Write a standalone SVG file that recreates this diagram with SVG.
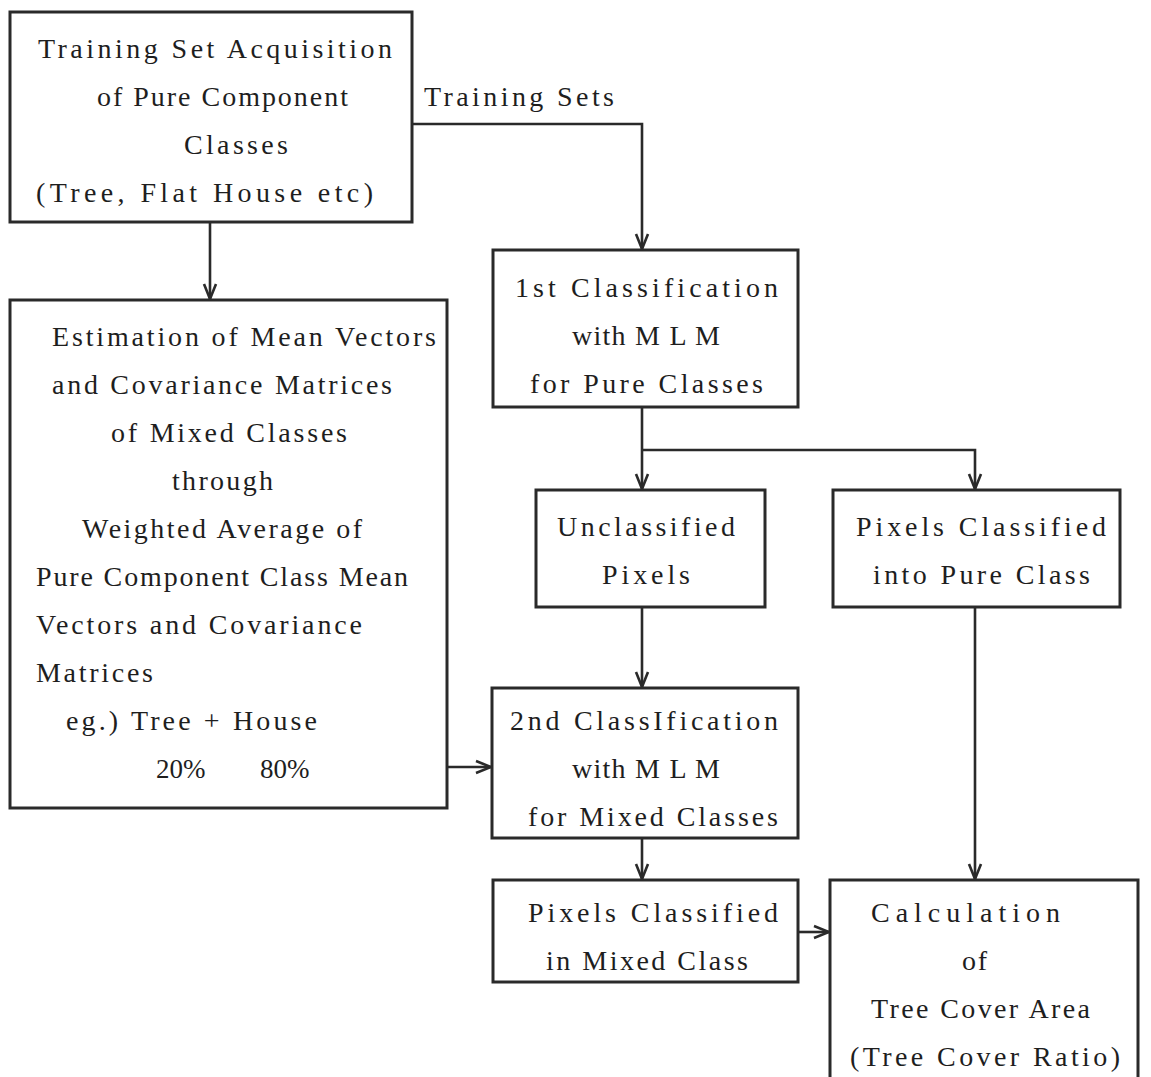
<svg xmlns="http://www.w3.org/2000/svg" width="1151" height="1077" viewBox="0 0 1151 1077">
<defs>
<style>
.box{fill:none;stroke:#2a2a2a;stroke-width:3;stroke-linejoin:miter}
.edge{fill:none;stroke:#2a2a2a;stroke-width:2.6}
text{font-family:"Liberation Serif","DejaVu Serif",serif;font-size:28px;fill:#1e1e1e}
.pc{font-size:27px}
</style>
<marker id="arr" viewBox="-16 -8 18 16" refX="0" refY="0" markerWidth="18" markerHeight="16" markerUnits="userSpaceOnUse" orient="auto">
<path d="M-15,-6 L0,0 L-15,6" fill="none" stroke="#2a2a2a" stroke-width="2.6"/>
</marker>
</defs>
<rect width="1151" height="1077" fill="#ffffff"/>

<g id="connectors">
<path class="edge" d="M412,124 H642 V249" marker-end="url(#arr)"/>
<text x="424" y="106" textLength="190" lengthAdjust="spacing">Training Sets</text>
<path class="edge" d="M210,222 V299" marker-end="url(#arr)"/>
<path class="edge" d="M642,407 V489" marker-end="url(#arr)"/>
<path class="edge" d="M642,450 H975 V489" marker-end="url(#arr)"/>
<path class="edge" d="M642,607 V687" marker-end="url(#arr)"/>
<path class="edge" d="M447,767 H491" marker-end="url(#arr)"/>
<path class="edge" d="M642,838 V879" marker-end="url(#arr)"/>
<path class="edge" d="M975,607 V879" marker-end="url(#arr)"/>
<path class="edge" d="M798,932 H829" marker-end="url(#arr)"/>
</g>

<g id="n1">
<rect class="box" x="10" y="12" width="402" height="210"/>
<text x="38" y="58" textLength="354" lengthAdjust="spacing">Training Set Acquisition</text>
<text x="97" y="106" textLength="251" lengthAdjust="spacing">of Pure Component</text>
<text x="184" y="154" textLength="104" lengthAdjust="spacing">Classes</text>
<text x="36" y="202" textLength="337" lengthAdjust="spacing">(Tree, Flat House etc)</text>
</g>

<g id="n2">
<rect class="box" x="10" y="300" width="437" height="508"/>
<text x="52" y="346" textLength="384" lengthAdjust="spacing">Estimation of Mean Vectors</text>
<text x="52" y="394" textLength="340" lengthAdjust="spacing">and Covariance Matrices</text>
<text x="111" y="442" textLength="236" lengthAdjust="spacing">of Mixed Classes</text>
<text x="172" y="490" textLength="101" lengthAdjust="spacing">through</text>
<text x="82" y="538" textLength="280" lengthAdjust="spacing">Weighted Average of</text>
<text x="36" y="586" textLength="372" lengthAdjust="spacing">Pure Component Class Mean</text>
<text x="36" y="634" textLength="326" lengthAdjust="spacing">Vectors and Covariance</text>
<text x="36" y="682" textLength="117" lengthAdjust="spacing">Matrices</text>
<text x="66" y="730" textLength="251" lengthAdjust="spacing">eg.) Tree + House</text>
<text class="pc" x="156" y="778">20%</text>
<text class="pc" x="260" y="778">80%</text>
</g>

<g id="n3">
<rect class="box" x="493" y="250" width="305" height="157"/>
<text x="515" y="297" textLength="263" lengthAdjust="spacing">1st Classification</text>
<text x="572" y="345" textLength="148" lengthAdjust="spacing">with M L M</text>
<text x="530" y="393" textLength="233" lengthAdjust="spacing">for Pure Classes</text>
</g>

<g id="n4">
<rect class="box" x="536" y="490" width="229" height="117"/>
<text x="557" y="536" textLength="178" lengthAdjust="spacing">Unclassified</text>
<text x="602" y="584" textLength="88" lengthAdjust="spacing">Pixels</text>
</g>

<g id="n5">
<rect class="box" x="833" y="490" width="287" height="117"/>
<text x="856" y="536" textLength="250" lengthAdjust="spacing">Pixels Classified</text>
<text x="873" y="584" textLength="217" lengthAdjust="spacing">into Pure Class</text>
</g>

<g id="n6">
<rect class="box" x="492" y="688" width="306" height="150"/>
<text x="510" y="730" textLength="268" lengthAdjust="spacing">2nd ClassIfication</text>
<text x="572" y="778" textLength="148" lengthAdjust="spacing">with M L M</text>
<text x="528" y="826" textLength="250" lengthAdjust="spacing">for Mixed Classes</text>
</g>

<g id="n7">
<rect class="box" x="493" y="880" width="305" height="102"/>
<text x="528" y="922" textLength="250" lengthAdjust="spacing">Pixels Classified</text>
<text x="546" y="970" textLength="202" lengthAdjust="spacing">in Mixed Class</text>
</g>

<g id="n8">
<path class="box" d="M830,1077 V880 H1138 V1077"/>
<text x="871" y="922" textLength="189" lengthAdjust="spacing">Calculation</text>
<text x="962" y="970" textLength="25" lengthAdjust="spacing">of</text>
<text x="871" y="1018" textLength="219" lengthAdjust="spacing">Tree Cover Area</text>
<text x="850" y="1066" textLength="270" lengthAdjust="spacing">(Tree Cover Ratio)</text>
</g>
</svg>
